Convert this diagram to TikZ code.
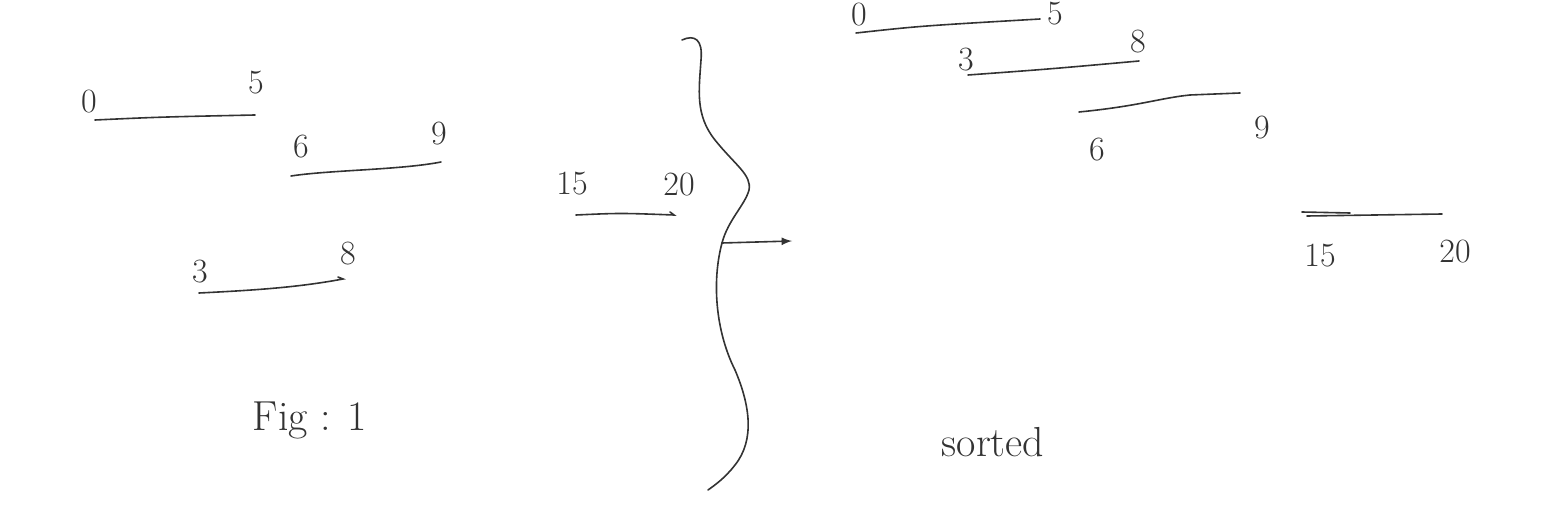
\documentclass[tikz,border=0pt]{standalone}
\usepackage{amsmath}
\usepackage{amssymb}
\usepackage{tikz}
\tikzset{
  pen/.style={line width=0.8pt, draw=black!80, line cap=round},
  num/.style={font=\fontsize{17}{20}\selectfont, text=black!80, inner sep=0pt},
  caption/.style={font=\fontsize{21}{25}\selectfont, text=black!80, inner sep=0pt}
}
\begin{document}
\begin{tikzpicture}[x=0.5pt,y=-0.5pt]
			\useasboundingbox (0,0) rectangle (1542,513);
			% unsorted intervals
			\node[num] (a0) at (89,102) {0};
			\node[num] (a5) at (256,83) {5};
			\draw[pen] (95,120) .. controls (160,117) .. (255,115);
			\node[num] (b6) at (301,147) {6};
			\node[num] (b9) at (439,134) {9};
			\draw[pen] (291,176) .. controls (330,170) and (400,170) .. (441,162);
			\node[num] (c3) at (200,272) {3};
			\node[num] (c8) at (348,254) {8};
			\draw[pen] (199,293) .. controls (260,290) and (300,287) .. (343,279) -- (338,277);
			\node[num] (d15) at (572,184) {15};
			\node[num] (d20) at (679,185) {20};
			\draw[pen] (576,215) .. controls (620,213) .. (674,215) -- (670,212);
			\node[caption] (fig) at (310,420) {Fig : 1};
			% brace
			\draw[pen] (682,40) .. controls (695,34) and (703,40) .. (701,60)
				.. controls (699,90) and (695,115) .. (715,140)
				.. controls (735,165) and (752,175) .. (749,190)
				.. controls (745,205) and (728,220) .. (722,243)
				.. controls (712,280) and (715,330) .. (735,370)
				.. controls (750,405) and (755,440) .. (735,465)
				.. controls (725,478) and (715,485) .. (708,490);
			\coordinate (bmid) at (722,243);
			\coordinate (btip) at (792,241);
			\draw[pen, -latex] (bmid) -- (btip);
			% sorted intervals
			\node[num] (s0) at (859,15) {0};
			\node[num] (s5) at (1055,14) {5};
			\draw[pen] (856,33) .. controls (920,26) .. (1040,19);
			\node[num] (s3) at (966,60) {3};
			\node[num] (s8) at (1138,42) {8};
			\draw[pen] (968,75) .. controls (1050,69) .. (1139,61);
			\node[num] (s6) at (1097,150) {6};
			\node[num] (s9) at (1262,128) {9};
			\draw[pen] (1079,112) .. controls (1140,106) and (1160,98) .. (1190,95) -- (1240,93);
			\node[num] (s15) at (1320,256) {15};
			\node[num] (s20) at (1455,252) {20};
			\draw[pen] (1302,212) -- (1350,213);
			\draw[pen] (1307,216) -- (1442,214);
			\node[caption] (srt) at (993,442) {sorted};
		\end{tikzpicture}
\end{document}
